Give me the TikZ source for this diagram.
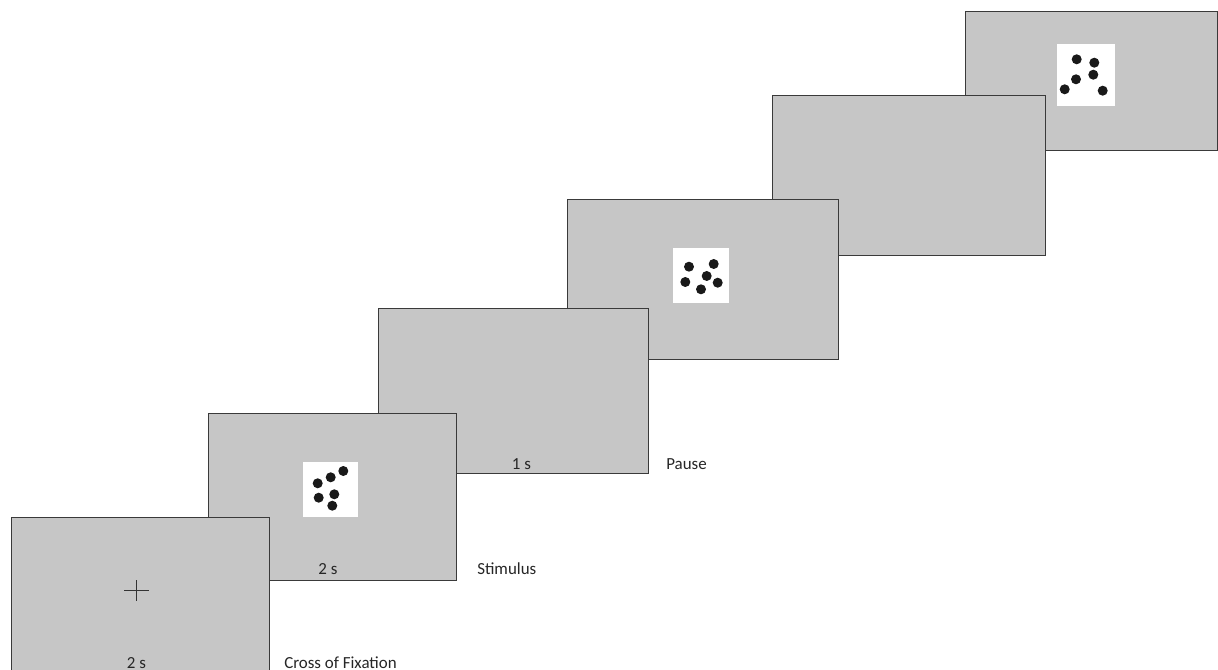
\documentclass[tikz,border=0pt]{standalone}
\usepackage{fontspec}
\setmainfont{Carlito}
\definecolor{scrgray}{HTML}{C6C6C6}
\definecolor{edgegray}{HTML}{3A3A3A}
\begin{document}
\begin{tikzpicture}[x=0.75pt,y=-0.75pt,
  screen/.style={fill=scrgray, draw=edgegray, line width=0.75pt},
  screenfill/.style={fill=scrgray},
  screenedge/.style={draw=edgegray, line width=0.75pt},
  stimbox/.style={fill=white},
  dot/.style={fill=black!90},
  lbl/.style={font=\fontsize{12.7}{15}\selectfont, inner sep=0pt, anchor=base west, text=black!85},
  dur/.style={font=\fontsize{12.7}{15}\selectfont, inner sep=0pt, anchor=base, text=black!85},
  crossline/.style={draw=black!80, line width=0.75pt}]
\useasboundingbox (0,0) rectangle (1218,670);

% screen 6 (stimulus, top right)
\draw[screen] (965,12) rectangle (1217.5,151);
\fill[stimbox] (1057,44) rectangle (1115,106);
\foreach \x/\y in {1076.7/59.3, 1094.3/62.7, 1093.3/74.7, 1076/79.3, 1064.7/89.3, 1102.7/90.7}
  \fill[dot] (\x,\y) circle[radius=5];

% screen 5 (blank)
\draw[screen] (772,96) rectangle (1045,256);

% screen 4 (stimulus)
\draw[screen] (567,200) rectangle (838,360);
\fill[stimbox] (672.5,248) rectangle (728.5,303);
\foreach \x/\y in {689/266.7, 713.7/264, 706.7/276, 685.3/282, 717.7/282.7, 701/289.3}
  \fill[dot] (\x,\y) circle[radius=5];

% screen 3 (pause)
\draw[screen] (378,309) rectangle (648,473);
\node[dur] (d3) at (521.5,469) {1 s};
\node[lbl] (pause) at (666,469) {Pause};

% screen 2 (stimulus)
\draw[screen] (208,413) rectangle (456,580);
\fill[stimbox] (303,461.5) rectangle (358,516.5);
\foreach \x/\y in {343.3/471, 330.7/477.3, 317.7/483.3, 318.7/497.7, 334.3/494.3, 332.3/505.7}
  \fill[dot] (\x,\y) circle[radius=5];
\node[dur] (d2) at (328,574) {2 s};
\node[lbl] (stim) at (477,574) {Stimulus};

% screen 1 (fixation)
\fill[screenfill] (11,517) rectangle (269,670);
\draw[screenedge] (11,670) -- (11,517) -- (269,517) -- (269,670);
\draw[crossline] (124,590.5) -- (149,590.5);
\draw[crossline] (136.5,580) -- (136.5,601);
\node[dur] (d1) at (136.5,668) {2 s};
\node[lbl] (fix) at (284,668) {Cross of Fixation};
\end{tikzpicture}
\end{document}
